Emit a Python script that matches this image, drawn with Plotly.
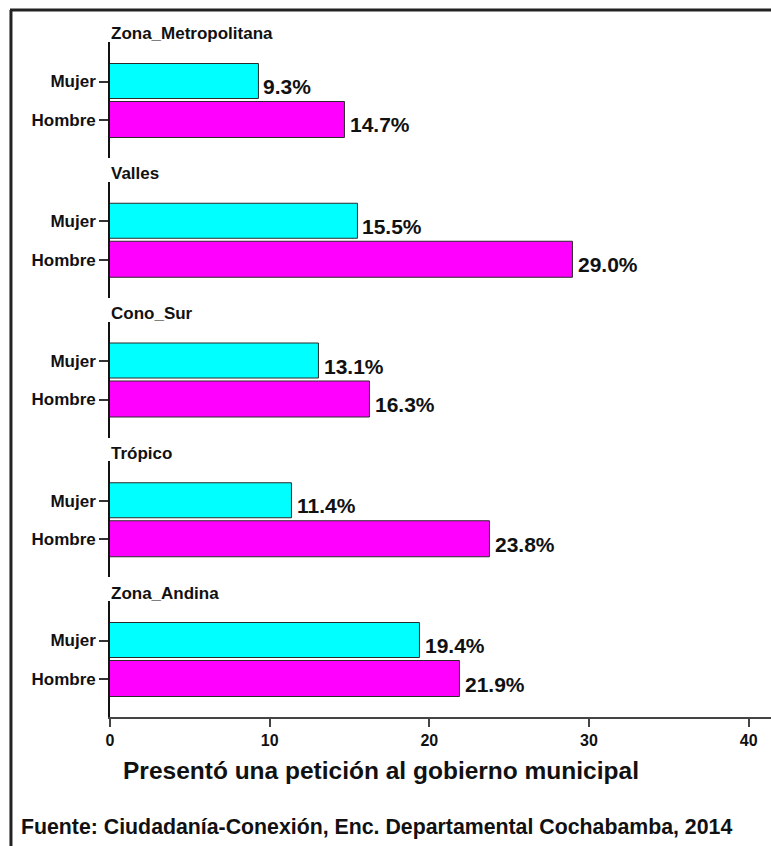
import plotly.graph_objects as go

zones = ["Zona_Metropolitana", "Valles", "Cono_Sur", "Trópico", "Zona_Andina"]
sexes = ["Mujer", "Hombre"]
mujer = [9.3, 15.5, 13.1, 11.4, 19.4]
hombre = [14.7, 29.0, 16.3, 23.8, 21.9]
x_ticks = [0, 10, 20, 30, 40]
x_title = "Presentó una petición al gobierno municipal"
note = "Fuente: Ciudadanía-Conexión, Enc. Departamental Cochabamba, 2014"

W, H = 771, 846
FONT = "Liberation Sans"
colors = {"Mujer": "#00FFFF", "Hombre": "#FF00FF"}

x0_px = 106.5
x_dom = [x0_px / W, 1.0]
x_range = [0, 41.4]

panel_top0 = 42
panel_h = 116
period = 139.75

fig = go.Figure()
annotations = []
layout_axes = {}

for i, zone in enumerate(zones):
    top = panel_top0 + period * i
    bot = top + panel_h
    dom = [1 - bot / H, 1 - top / H]
    xa = "x" if i == 0 else f"x{i+1}"
    ya = "y" if i == 0 else f"y{i+1}"
    xkey = "xaxis" if i == 0 else f"xaxis{i+1}"
    ykey = "yaxis" if i == 0 else f"yaxis{i+1}"
    vals = [mujer[i], hombre[i]]
    for s, v in zip(sexes, vals):
        fig.add_trace(go.Bar(
            x=[v], y=[s], orientation="h", xaxis=xa, yaxis=ya,
            marker=dict(color=colors[s], line=dict(color="#2a2a2a", width=1)),
            width=0.91, showlegend=False, hoverinfo="skip",
        ))
        annotations.append(dict(
            x=v, y=s, xref=xa, yref=ya, text=f"{v:.1f}%",
            showarrow=False, xanchor="left", yanchor="middle",
            xshift=3, yshift=-5,
            font=dict(family=FONT, size=21, color="#111", weight="bold"),
        ))
    is_last = i == len(zones) - 1
    layout_axes[xkey] = dict(
        domain=x_dom, range=x_range, anchor=ya,
        showgrid=False, zeroline=False,
        showline=is_last, linecolor="#444", linewidth=2,
        tickvals=x_ticks if is_last else [], showticklabels=is_last,
        ticks="outside" if is_last else "", ticklen=8, tickwidth=2, tickcolor="#444",
        tickfont=dict(family=FONT, size=16, color="#111", weight="bold"),
        matches=None if i == 0 else "x",
    )
    layout_axes[ykey] = dict(
        domain=dom, anchor=xa, type="category",
        categoryarray=sexes, range=[1.987, -1.026],
        showgrid=False, zeroline=False,
        showline=True, linecolor="#111", linewidth=1.5,
        ticks="outside", ticklen=9, tickwidth=1.5, tickcolor="#333",
        tickfont=dict(family=FONT, size=17, color="#111", weight="bold"),
    )
    annotations.append(dict(
        x=106 / W, y=1 - (top - 8) / H, xref="paper", yref="paper",
        text=zone, showarrow=False, xanchor="left", yanchor="middle",
        font=dict(family=FONT, size=17, color="#111", weight="bold"),
    ))

annotations.append(dict(
    x=379 / W, y=1 - 770 / H, xref="paper", yref="paper", text=x_title,
    showarrow=False, xanchor="center", yanchor="middle",
    font=dict(family=FONT, size=24.5, color="#111", weight="bold"),
))
annotations.append(dict(
    x=15 / W, y=1 - 827 / H, xref="paper", yref="paper", text=note,
    showarrow=False, xanchor="left", yanchor="middle",
    font=dict(family=FONT, size=21.3, color="#111", weight="bold"),
))

shapes = [
    dict(type="line", xref="paper", yref="paper", x0=6 / W, x1=1, y0=1 - 10 / H, y1=1 - 10 / H,
         line=dict(color="#222", width=3)),
    dict(type="line", xref="paper", yref="paper", x0=7 / W, x1=7 / W, y0=1 - 10 / H, y1=0,
         line=dict(color="#222", width=3)),
]

fig.update_layout(
    width=W, height=H, margin=dict(l=0, r=0, t=0, b=0),
    paper_bgcolor="white", plot_bgcolor="white",
    annotations=annotations, shapes=shapes, bargap=0,
    **layout_axes,
)

fig.write_html("out.html", config={"displayModeBar": False},
               post_script="document.body.style.margin='0';")
